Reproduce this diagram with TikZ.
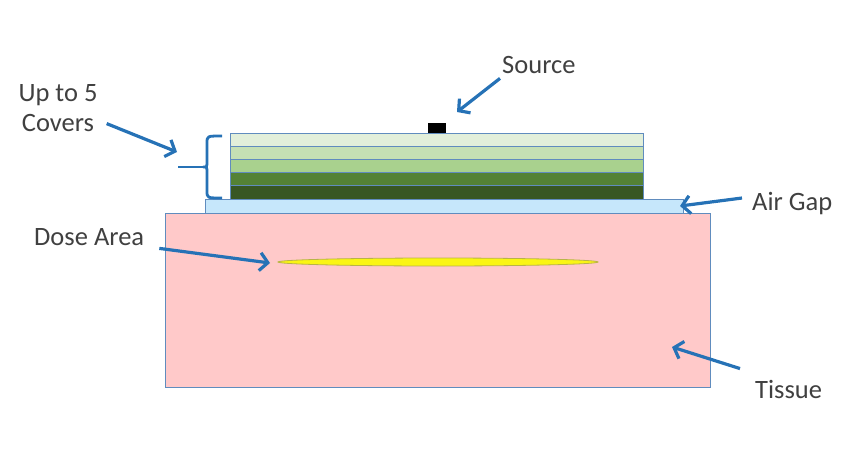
\documentclass[tikz,border=0pt]{standalone}
\usepackage{fontspec}
\setmainfont{Carlito}
\usetikzlibrary{arrows.meta}

\definecolor{tissuefill}{RGB}{255,201,201}
\definecolor{gapfill}{RGB}{198,231,251}
\definecolor{edgeblue}{RGB}{96,140,190}
\definecolor{arrowblue}{RGB}{38,114,182}
\definecolor{textgray}{RGB}{64,64,64}
\definecolor{doseyellow}{RGB}{250,245,20}
\definecolor{doseedge}{RGB}{185,180,70}
\definecolor{coverA}{RGB}{226,239,218}
\definecolor{coverB}{RGB}{197,224,180}
\definecolor{coverC}{RGB}{169,209,142}
\definecolor{coverD}{RGB}{84,130,53}
\definecolor{coverE}{RGB}{56,87,35}

\begin{document}
\begin{tikzpicture}[x=1pt, y=-1pt,
    lbl/.style={text=textgray, font=\fontsize{26.5}{30}\selectfont, inner sep=0pt},
    pointer/.style={draw=arrowblue, line width=3.2pt, -{Straight Barb[length=8pt, width=18pt]}},
    outline/.style={draw=edgeblue, line width=1pt}]
    \useasboundingbox (0,0) rectangle (850,460);

    % Tessuto e area di dose
    \draw[outline, fill=tissuefill] (165,213) rectangle (710,387);
    \draw[fill=doseyellow, draw=doseedge, line width=0.8pt] (438,262) ellipse (160 and 4);

    % Air gap e coperture
    \draw[outline, fill=gapfill] (205,199) rectangle (683,213);
    \foreach \c [count=\i from 0] in {coverA,coverB,coverC,coverD,coverE}
        \draw[outline, fill=\c] (230,133+13.2*\i) rectangle (643,146.2+13.2*\i);

    % Sorgente
    \fill[black] (428,123) rectangle (446,133);

    % Parentesi delle coperture
    \coordinate (bracetip) at (203,167);
    \coordinate (bracestub) at (178,167);
    \draw[arrowblue, line width=2.8pt] (222,136) .. controls (207,136) .. (207,143) -- (207,161)
        .. controls (207,167) .. (bracetip) .. controls (207,167) .. (207,173) -- (207,191)
        .. controls (207,198) .. (222,198);
    \draw[arrowblue, line width=2.8pt] (bracestub) -- (bracetip);

    % Etichette
    \node[lbl, anchor=base west] (source) at (502,73) {Source};
    \node[lbl, align=center, anchor=north] (covers) at (58,84) {Up to 5\\Covers};
    \node[lbl, anchor=base west] (airgap) at (752,210) {Air Gap};
    \node[lbl, anchor=base west] (dose) at (34,245) {Dose Area};
    \node[lbl, anchor=base west] (tissue) at (755,398) {Tissue};

    % Punti indicati
    \coordinate (srcpt) at (457,112);
    \coordinate (coverpt) at (177,152);
    \coordinate (gappt) at (680,206);
    \coordinate (dosept) at (270,263);
    \coordinate (tissuept) at (672,347);

    % Frecce
    \draw[pointer] ([shift={(-2,5)}]source.south west) -- (srcpt);
    \draw[pointer] ([shift={(9,-8)}]covers.south east) -- (coverpt);
    \draw[pointer] ([shift={(-10,-5)}]airgap.west) -- (gappt);
    \draw[pointer] ([shift={(15,3)}]dose.south east) -- (dosept);
    \draw[pointer] ([shift={(-15,-11)}]tissue.north west) -- (tissuept);
\end{tikzpicture}
\end{document}
